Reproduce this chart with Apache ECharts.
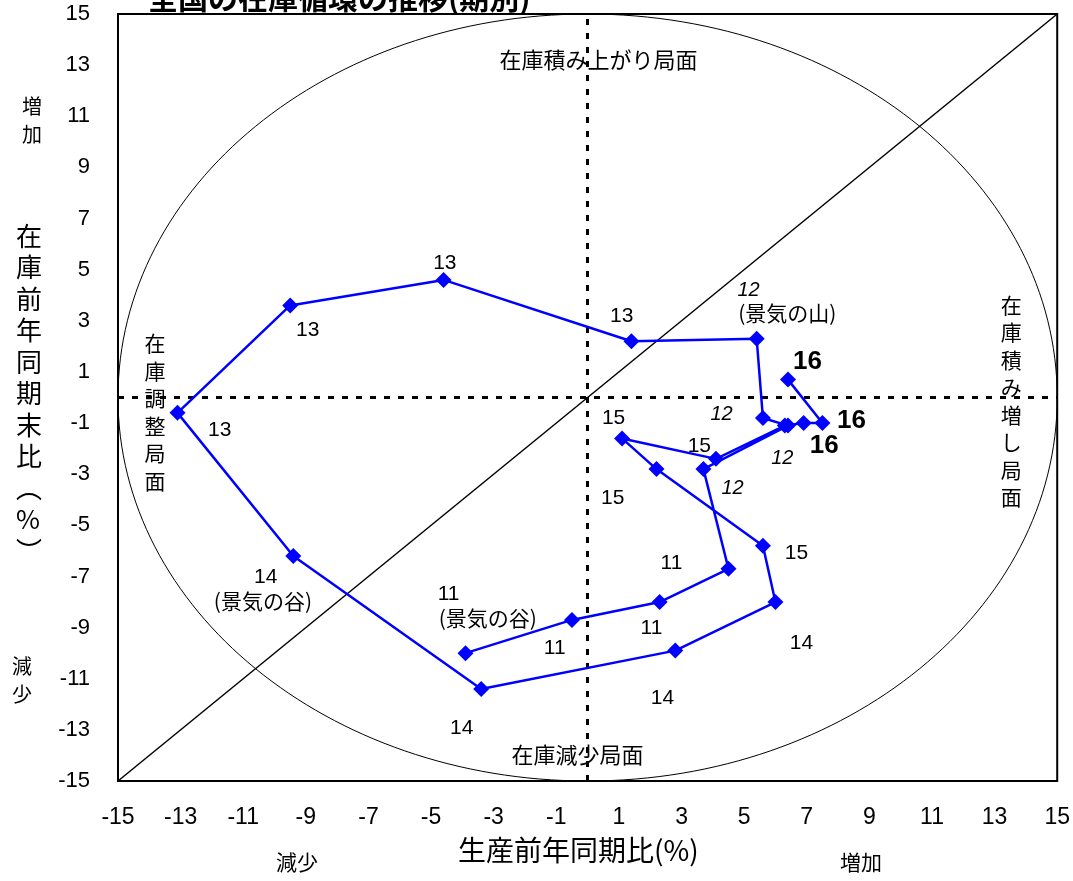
<!DOCTYPE html>
<html>
<head>
<meta charset="utf-8">
<script src="https://cdn.jsdelivr.net/npm/echarts@6/dist/echarts.min.js"></script>
<style>
html,body{margin:0;padding:0;background:#fff;}
#main{width:1073px;height:881px;}
</style>
</head>
<body>
<div id="main"></div>
<script>
// Quarterly periods (Heisei year - quarter)
const periods = ['H11-1','H11-2','H11-3','H11-4','H12-1','H12-2','H12-3','H12-4','H13-1','H13-2','H13-3','H13-4','H14-1','H14-2','H14-3','H14-4','H15-1','H15-2','H15-3','H15-4','H16-1','H16-2','H16-3','H16-4'];
// Production YoY (%)
const prodYoY = [-3.9,-0.5,2.3,4.5, 3.7,6.4,5.6,5.4, 1.4,-4.6,-9.5,-13.1, -9.4,-3.4,2.8,6.0, 5.6,2.2,1.1,4.1, 6.3,6.9,7.5,6.4];
// Inventory YoY at period end (%)
const invYoY = [-10.0,-8.7,-8.0,-6.7, -2.8,-1.1,-0.8,2.3, 2.2,4.6,3.6,-0.6, -6.2,-11.4,-9.9,-8.0, -5.8,-2.8,-1.6,-2.4, -1.1,-1.0,-1.0,0.7];
// Tick labels
const tickLabels = [-15,-13,-11,-9,-7,-5,-3,-1,1,3,5,7,9,11,13,15];
// Reference ellipse (center, radii) and diagonal
const ellipseCenter = [0, 0];
const ellipseRadius = [15, 15];
const diagonalFrom = [-15, -15];
const diagonalTo = [15, 15];

// Annotation texts (anchor in data coordinates)
const annotations = [
  {p:[-4.56,5.26], t:'13', s:'n'},
  {p:[1.09,3.19], t:'13', s:'n'},
  {p:[-8.94,2.64], t:'13', s:'n'},
  {p:[-11.75,-1.27], t:'13', s:'n'},
  {p:[5.14,4.20], t:'12', s:'i'},
  {p:[6.38,3.30], t:'(景気の山)', s:'j'},
  {p:[4.28,-0.68], t:'12', s:'i'},
  {p:[6.22,-2.37], t:'12', s:'i'},
  {p:[4.63,-3.54], t:'12', s:'i'},
  {p:[7.02,1.39], t:'16', s:'b'},
  {p:[8.43,-0.92], t:'16', s:'b'},
  {p:[7.56,-1.90], t:'16', s:'b'},
  {p:[0.83,-0.80], t:'15', s:'n'},
  {p:[3.57,-1.90], t:'15', s:'n'},
  {p:[0.80,-3.93], t:'15', s:'n'},
  {p:[6.67,-6.08], t:'15', s:'n'},
  {p:[2.68,-6.47], t:'11', s:'n'},
  {p:[-4.44,-7.68], t:'11', s:'n'},
  {p:[-3.19,-8.62], t:'(景気の谷)', s:'j'},
  {p:[-1.05,-9.81], t:'11', s:'n'},
  {p:[2.04,-9.04], t:'11', s:'n'},
  {p:[-10.28,-7.02], t:'14', s:'n'},
  {p:[-10.37,-7.96], t:'(景気の谷)', s:'j'},
  {p:[-4.02,-12.93], t:'14', s:'n'},
  {p:[2.39,-11.75], t:'14', s:'n'},
  {p:[6.83,-9.61], t:'14', s:'n'},
  {p:[0.35,13.20], t:'在庫積み上がり局面', s:'q'},
  {p:[-0.32,-13.98], t:'在庫減少局面', s:'q'},
  {p:[-13.82,-0.57], t:'在\n庫\n調\n整\n局\n面', s:'v'},
  {p:[13.53,-0.14], t:'在\n庫\n積\nみ\n増\nし\n局\n面', s:'v'}
];

const JP = '"Noto Sans CJK JP", "Liberation Sans", sans-serif';
const NUM = '"Liberation Sans", Arial, sans-serif';
const NARROW = '"Liberation Sans Narrow", "Liberation Sans", Arial, sans-serif';

const fmt = p => p.data.t;

function annStyle(s) {
  const base = {show:true, position:'inside', color:'#000', fontSize:21, fontFamily:NUM, formatter:fmt, textBorderWidth:0, opacity:1};
  if (s === 'i') return Object.assign(base, {fontStyle:'italic', fontSize:20});
  if (s === 'b') return Object.assign(base, {fontWeight:'bold', fontFamily:NARROW, fontSize:26});
  if (s === 'j') return Object.assign(base, {fontFamily:JP, fontSize:21});
  if (s === 'q') return Object.assign(base, {fontFamily:JP, fontSize:22});
  if (s === 'v') return Object.assign(base, {fontFamily:JP, fontSize:21, lineHeight:27.5});
  return base;
}

const chart = echarts.init(document.getElementById('main'), null, {renderer:'canvas'});

const mainData = periods.map((name, i) => ({name: name, value: [prodYoY[i], invYoY[i]]}));
const annData = annotations.map(a => ({value: a.p, t: a.t, label: annStyle(a.s)}));

const option = {
  animation: false,
  backgroundColor: '#fff',
  title: {
    text: '全国の在庫循環の推移(期別)',
    left: 143,
    top: -22,
    textStyle: {fontSize: 30, fontWeight: 'bold', fontFamily: JP, color: '#000'}
  },
  grid: {left:118, right:15, top:14, bottom:100, show:true, borderColor:'#000', borderWidth:2, backgroundColor:'transparent'},
  xAxis: {
    type:'value', min:-15, max:15, interval:1,
    axisLine:{show:false, onZero:false},
    axisTick:{show:false},
    splitLine:{show:false},
    axisLabel:{
      color:'#000', fontSize:23, fontFamily:NARROW, margin:25,
      formatter: v => tickLabels.indexOf(v) >= 0 ? String(v) : ''
    }
  },
  yAxis: {
    type:'value', min:-15, max:15, interval:1,
    axisLine:{show:false, onZero:false},
    axisTick:{show:false},
    splitLine:{show:false},
    axisLabel:{
      color:'#000', fontSize:22, fontFamily:NUM, margin:28,
      formatter: v => tickLabels.indexOf(v) >= 0 ? String(v) : ''
    }
  },
  graphic: [
    {type:'text', left:16, top:220, style:{text:'在\n庫\n前\n年\n同\n期\n末\n比\n︵\n%\n︶', font:'26px "Noto Sans CJK JP"', lineHeight:31.5, fill:'#000', align:'center'}},
    {type:'text', left:22, top:92, style:{text:'増\n加', font:'20px "Noto Sans CJK JP"', lineHeight:28, fill:'#000'}},
    {type:'text', left:12, top:652, style:{text:'減\n少', font:'20px "Noto Sans CJK JP"', lineHeight:28, fill:'#000'}},
    {type:'text', left:458, top:836, style:{text:'生産前年同期比(%)', font:'28px "Noto Sans CJK JP"', fill:'#000'}},
    {type:'text', left:276, top:852, style:{text:'減少', font:'21px "Noto Sans CJK JP"', fill:'#000'}},
    {type:'text', left:840, top:852, style:{text:'増加', font:'21px "Noto Sans CJK JP"', fill:'#000'}}
  ],
  series: [
    {
      type:'custom',
      silent:true,
      z:1,
      encode:{x:0, y:1},
      data:[[ellipseCenter[0], ellipseCenter[1], ellipseRadius[0], ellipseRadius[1]]],
      renderItem: function(params, api) {
        const c = api.coord([api.value(0), api.value(1)]);
        const s = api.size([api.value(2), api.value(3)]);
        return {type:'ellipse', shape:{cx:c[0], cy:c[1], rx:s[0], ry:s[1]}, style:{fill:'none', stroke:'#000', lineWidth:1}};
      }
    },
    {
      type:'line',
      z:5,
      data: mainData,
      symbol:'diamond',
      symbolSize:16,
      lineStyle:{color:'#0000ff', width:2.5},
      itemStyle:{color:'#0000ff'},
      markLine:{
        silent:true,
        symbol:['none','none'],
        label:{show:false},
        z:2,
        lineStyle:{color:'#000', type:[6,8], width:3},
        data:[
          {xAxis:0},
          {yAxis:0},
          [
            {coord:diagonalFrom, lineStyle:{color:'#000', type:'solid', width:1.5}},
            {coord:diagonalTo, lineStyle:{color:'#000', type:'solid', width:1.5}}
          ]
        ]
      }
    },
    {
      type:'scatter',
      silent:true,
      z:6,
      symbol:'circle',
      symbolSize:0.5,
      itemStyle:{color:'#ffffff', opacity:1},
      label:{show:true, formatter:fmt, color:'#000'},
      data: annData
    }
  ]
};
chart.setOption(option);
</script>
</body>
</html>
